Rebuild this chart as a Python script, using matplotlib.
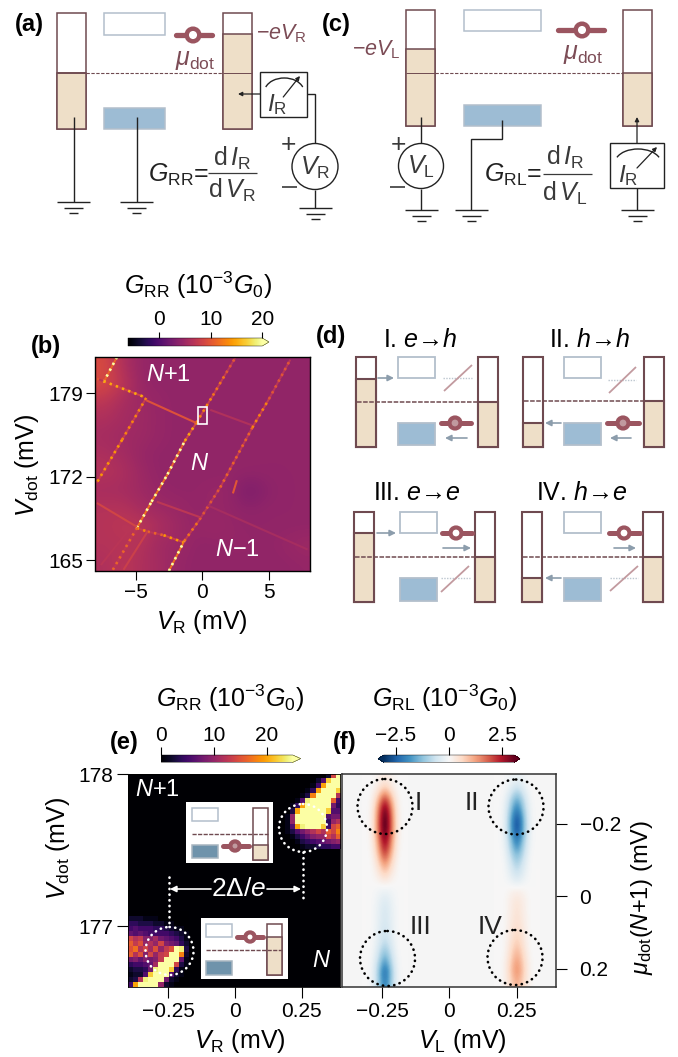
import numpy as np
import matplotlib
matplotlib.use("Agg")
import matplotlib.pyplot as plt
from matplotlib.collections import LineCollection
from matplotlib.colors import Normalize
from matplotlib.patches import Rectangle, Circle, Arc
from matplotlib.cm import ScalarMappable

plt.rcParams.update({
    "font.family": ["Liberation Sans", "DejaVu Sans"],
    "mathtext.fontset": "custom",
    "mathtext.rm": "Liberation Sans",
    "mathtext.it": "Liberation Sans:italic",
    "mathtext.bf": "Liberation Sans:bold",
    "mathtext.default": "it",
    "font.size": 15,
})

# ---------- panel (b) data ----------
b_ticks_x = [-5, 0, 5]
b_ticks_y = [165, 172, 179]
b_background = [
    [9.0, 6.0, 4.5, 4.2, 4.2, 4.2, 4.2, 4.2, 4.2, 4.2, 4.2, 4.2],
    [9.0, 7.0, 4.5, 4.2, 4.2, 4.2, 4.2, 4.2, 4.2, 4.2, 4.2, 4.2],
    [7.0, 5.5, 5.0, 4.5, 4.2, 4.2, 4.2, 4.2, 4.2, 4.2, 4.2, 4.2],
    [6.0, 5.5, 5.0, 4.5, 4.2, 4.2, 4.2, 4.2, 4.2, 4.2, 4.2, 4.2],
    [5.5, 5.0, 5.0, 4.5, 4.2, 4.2, 4.2, 4.2, 4.2, 4.2, 4.2, 4.2],
    [6.0, 5.5, 4.5, 4.2, 4.2, 4.2, 4.2, 4.2, 4.2, 4.2, 4.2, 4.2],
    [6.5, 6.0, 5.0, 4.2, 4.2, 4.2, 4.2, 4.3, 4.3, 4.2, 4.2, 4.2],
    [5.5, 5.5, 5.0, 4.5, 4.2, 4.3, 4.5, 4.5, 2.5, 3.8, 4.2, 4.2],
    [6.5, 6.5, 5.5, 5.0, 4.8, 4.2, 4.5, 4.3, 4.0, 4.2, 4.2, 4.2],
    [6.5, 7.0, 7.0, 6.0, 5.0, 4.5, 4.8, 4.5, 4.2, 4.2, 4.2, 4.2],
    [6.5, 6.5, 6.5, 5.0, 5.0, 4.2, 4.2, 4.4, 4.4, 4.2, 4.5, 5.0],
    [6.0, 7.0, 6.0, 5.5, 4.5, 4.2, 4.2, 4.2, 4.2, 4.2, 4.2, 4.4],
]
# resonance lines: V_R, V_dot and the conductance of each segment
line_main_x = [-4.9, -3.8, -2.6, -1.3, -0.45, 0.8, 1.8, 2.5]
line_main_y = [167.7, 169.9, 172.2, 175.0, 176.5, 178.8, 180.7, 182.0]
line_main_v = [24, 24, 21, 15, 13, 12, 10]
line_low_x = [-2.5, -1.35]
line_low_y = [164.1, 166.6]
line_low_v = [24]
line_right_x = [-1.35, -0.2, 1.35, 3.75, 5.0, 6.6]
line_right_y = [166.6, 168.4, 171.1, 176.1, 178.5, 181.8]
line_right_v = [12, 10, 11, 13, 10]
line_left_x = [-4.2, -6.0, -7.9]
line_left_y = [178.6, 175.1, 171.5]
line_left_v = [13, 14]
line_corner_x = [-7.4, -6.4]
line_corner_y = [179.9, 182.0]
line_corner_v = [22]
cross_top_x = [-7.9, -7.4, -4.4]
cross_top_y = [180.2, 180.0, 178.7]
cross_top_v = [10, 15]
cross_mid_x = [-4.2, -0.45]
cross_mid_y = [178.4, 176.5]
cross_mid_v = [9.5]
cross_faint_x = [0.6, 3.75]
cross_faint_y = [177.6, 176.3]
cross_faint_v = [6.2]
cross_low_x = [-4.9, -4.1, -2.9, -1.4]
cross_low_y = [167.7, 167.4, 167.1, 166.5]
cross_low_v = [13, 11, 14]
cross_c3_x = [-3.4, -0.15]
cross_c3_y = [169.9, 168.6]
cross_c3_v = [7]
cross_c4_x = [-7.9, -4.9]
cross_c4_y = [169.8, 167.8]
cross_c4_v = [8.5]
fan_a_x = [-6.7, -4.9]
fan_a_y = [164.2, 167.7]
fan_a_v = [11]
fan_b_x = [-5.9, -4.1]
fan_b_y = [164.2, 167.4]
fan_b_v = [8]
fan_c_x = [-7.6, -5.6]
fan_c_y = [164.6, 167.4]
fan_c_v = [6.8]
tail_x = [0.4, 7.9]
tail_y = [169.6, 165.9]
tail_v = [5.6]
spot_x = [2.3, 2.6]
spot_y = [170.6, 171.7]
spot_v = [10]

# ---------- panel (e) data: cells of the two bright corners ----------
e_ticks_x = [-0.25, 0, 0.25]
e_ticks_y = [177, 178]
e_top_right = [
    [0, 0, 0, 0, 0, 0, 0, 0, 0, 2, 14, 26],
    [0, 0, 0, 0, 0, 0, 0, 2, 6, 22, 26, 26],
    [0, 0, 0, 0, 0, 0, 1, 5, 20, 26, 26, 26],
    [0, 0, 0, 0, 0, 1, 4, 20, 26, 26, 26, 22],
    [0, 0, 0, 0, 1, 3, 18, 26, 26, 26, 26, 12],
    [0, 0, 0, 1, 6, 24, 26, 26, 26, 26, 16, 5],
    [0, 0, 1, 4, 20, 26, 26, 26, 26, 26, 8, 4],
    [0, 0, 3, 20, 26, 26, 26, 26, 26, 22, 6, 6],
    [0, 1, 10, 26, 26, 26, 26, 26, 26, 6, 8, 8],
    [0, 1, 10, 26, 26, 26, 26, 26, 26, 4, 10, 12],
    [0, 1, 6, 20, 24, 26, 26, 26, 22, 5, 14, 16],
    [0, 1, 3, 6, 8, 10, 12, 14, 12, 16, 14, 18],
    [0, 0, 1, 3, 5, 7, 9, 10, 10, 14, 12, 16],
    [0, 0, 0, 1, 3, 4, 5, 6, 7, 8, 9, 10],
    [0, 0, 0, 0, 1, 2, 2, 3, 4, 4, 5, 5],
]
e_bottom_left = [
    [0, 0, 0, 0, 0, 0, 0, 0, 0, 0, 0, 0],
    [2, 2, 2, 1, 1, 1, 0, 0, 0, 0, 0, 0],
    [4, 4, 3, 3, 3, 2, 2, 1, 1, 0, 0, 0],
    [5, 6, 5, 5, 5, 4, 4, 3, 2, 1, 1, 0],
    [7, 6, 7, 6, 5, 5, 5, 5, 4, 3, 2, 1],
    [14, 12, 13, 9, 9, 11, 8, 7, 6, 5, 3, 1],
    [16, 13, 15, 10, 12, 10, 14, 9, 8, 7, 4, 2],
    [15, 17, 12, 14, 11, 15, 10, 13, 15, 25, 24, 3],
    [16, 12, 15, 9, 14, 10, 13, 14, 26, 26, 18, 2],
    [8, 9, 7, 9, 8, 9, 13, 26, 26, 26, 7, 1],
    [4, 5, 5, 6, 7, 11, 26, 26, 26, 14, 3, 1],
    [2, 3, 3, 4, 8, 24, 26, 26, 22, 4, 1, 0],
    [1, 2, 2, 6, 22, 26, 26, 25, 6, 2, 1, 0],
    [2, 3, 12, 24, 26, 26, 25, 8, 2, 1, 0, 0],
    [5, 20, 26, 26, 26, 25, 10, 2, 1, 0, 0, 0],
]

# ---------- panel (f) data: columns around V_L = -0.25 and +0.25 ----------
f_ticks_x = [-0.25, 0, 0.25]
f_ticks_y = [-0.2, 0, 0.2]
f_left_peak = [
    [0.0, 0.1, 0.3, 0.1, 0.0],
    [0.0, 0.35, 0.9, 0.35, 0.0],
    [0.05, 1.0, 2.4, 1.0, 0.05],
    [0.1, 1.5, 3.3, 1.5, 0.1],
    [0.1, 1.7, 3.6, 1.7, 0.1],
    [0.1, 1.7, 3.6, 1.7, 0.1],
    [0.1, 1.4, 3.1, 1.4, 0.1],
    [0.05, 1.1, 2.6, 1.1, 0.05],
    [0.0, 0.7, 1.8, 0.7, 0.0],
    [0.0, 0.35, 1.0, 0.35, 0.0],
    [0.0, 0.1, 0.3, 0.1, 0.0],
    [0.0, -0.1, -0.2, -0.1, 0.0],
    [0.0, -0.2, -0.45, -0.2, 0.0],
    [0.0, -0.25, -0.55, -0.25, 0.0],
    [0.0, -0.25, -0.55, -0.25, 0.0],
    [0.0, -0.3, -0.65, -0.3, 0.0],
    [0.0, -0.35, -0.8, -0.35, 0.0],
    [0.0, -0.55, -1.3, -0.55, 0.0],
    [-0.05, -0.8, -1.9, -0.8, -0.05],
    [-0.05, -1.1, -2.6, -1.1, -0.05],
    [-0.05, -1.0, -2.3, -1.0, -0.05],
]
f_right_peak = [
    [0.0, -0.1, -0.2, -0.1, 0.0],
    [0.0, -0.3, -0.8, -0.35, 0.0],
    [-0.05, -0.8, -1.7, -0.8, -0.05],
    [-0.1, -1.1, -2.3, -1.1, -0.1],
    [-0.1, -1.4, -3.0, -1.4, -0.1],
    [-0.1, -1.4, -3.0, -1.4, -0.1],
    [-0.1, -1.1, -2.4, -1.1, -0.1],
    [-0.05, -0.85, -1.8, -0.85, -0.05],
    [0.0, -0.55, -1.2, -0.55, 0.0],
    [0.0, -0.35, -0.8, -0.35, 0.0],
    [0.0, -0.15, -0.4, -0.15, 0.0],
    [0.0, 0.1, 0.2, 0.1, 0.0],
    [0.0, 0.2, 0.4, 0.2, 0.0],
    [0.0, 0.2, 0.45, 0.2, 0.0],
    [0.0, 0.25, 0.5, 0.25, 0.0],
    [0.0, 0.3, 0.6, 0.3, 0.0],
    [0.0, 0.35, 0.8, 0.35, 0.0],
    [0.0, 0.5, 1.1, 0.5, 0.0],
    [0.05, 0.65, 1.4, 0.65, 0.05],
    [0.05, 0.75, 1.6, 0.75, 0.05],
    [0.05, 0.55, 1.2, 0.55, 0.05],
]

# ---------- colours ----------
TAN = "#eedfc8"
EDGE = "#6f4a50"
GREY_EDGE = "#b3bfcc"
BLUE = "#9dbcd4"
DOT = "#9b5560"
MU = "#7c4c56"
ARROW = "#8c9dac"
DIAG = "#c29a9f"
TXT = "#3a3a3a"

W, H = 678, 1057
fig = plt.figure(figsize=(6.78, 10.57), dpi=100)
TICK = 15


def axpx(l, t, r, b, **kw):
    return fig.add_axes([l / W, 1 - b / H, (r - l) / W, (b - t) / H], **kw)


def style(ax, length=6.3, width=0.8):
    ax.tick_params(length=length, width=width, pad=2.5, labelsize=TICK)


# ---------- (b) ----------
ax_b = axpx(95.5, 357.3, 310, 571)
norm_b = Normalize(-6.1, 20)
ext_b = (-8, 8.08, 164.1, 182.0)
ax_b.imshow(b_background, cmap="inferno", norm=norm_b, extent=ext_b, aspect="auto", interpolation="bicubic")
lines_b = [
    (line_main_x, line_main_y, line_main_v, True),
    (line_low_x, line_low_y, line_low_v, True),
    (line_right_x, line_right_y, line_right_v, True),
    (line_left_x, line_left_y, line_left_v, True),
    (line_corner_x, line_corner_y, line_corner_v, True),
    (cross_top_x, cross_top_y, cross_top_v, True),
    (cross_mid_x, cross_mid_y, cross_mid_v, False),
    (cross_faint_x, cross_faint_y, cross_faint_v, False),
    (cross_low_x, cross_low_y, cross_low_v, True),
    (cross_c3_x, cross_c3_y, cross_c3_v, False),
    (cross_c4_x, cross_c4_y, cross_c4_v, False),
    (fan_a_x, fan_a_y, fan_a_v, True),
    (fan_b_x, fan_b_y, fan_b_v, False),
    (fan_c_x, fan_c_y, fan_c_v, False),
    (tail_x, tail_y, tail_v, False),
    (spot_x, spot_y, spot_v, False),
]
for xs, ys, vs, spotted in lines_b:
    pts = np.column_stack([xs, ys])
    segs = np.stack([pts[:-1], pts[1:]], axis=1)
    vals = np.asarray(vs, float)
    if spotted:
        under = LineCollection(segs, cmap="inferno", norm=norm_b, linewidths=1.4)
        under.set_array(0.35 * vals + 3.2)
        ax_b.add_collection(under)
        top = LineCollection(segs, cmap="inferno", norm=norm_b, linewidths=1.9,
                             linestyles=[(0, (0.9, 1.6))])
        top.set_array(vals)
        ax_b.add_collection(top)
    else:
        lc = LineCollection(segs, cmap="inferno", norm=norm_b, linewidths=1.5)
        lc.set_array(vals)
        ax_b.add_collection(lc)
ax_b.set_xlim(-8, 8.08)
ax_b.set_ylim(164.1, 182.0)
ax_b.set_xticks(b_ticks_x)
ax_b.set_yticks(b_ticks_y)
style(ax_b)
for s in ax_b.spines.values():
    s.set_linewidth(1.0)

cax_b = axpx(128, 338, 269, 346)
cb_b = fig.colorbar(ScalarMappable(norm_b, "inferno"), cax=cax_b, orientation="horizontal",
                    extend="max", extendfrac=0.05, ticks=[0, 10, 20])
cax_b.xaxis.set_ticks_position("top")
cax_b.tick_params(length=4.5, width=0.8, pad=2, labelsize=TICK)
cb_b.outline.set_linewidth(0.3)

# ---------- (e) ----------
ax_e = axpx(128, 774, 340, 987)
norm_e = Normalize(0, 25)
xl_e = (-0.4, 0.394)
yl_e = (176.6, 178.0)
ax_e.set_facecolor("#000004")
cell_x = 5 / 267.0
cell_y = 5 / 152.0
ax_e.imshow(e_top_right, cmap="inferno", norm=norm_e, interpolation="nearest", aspect="auto",
            extent=(xl_e[1] - 12 * cell_x, xl_e[1], yl_e[1] - 15 * cell_y, yl_e[1]))
ax_e.imshow(e_bottom_left, cmap="inferno", norm=norm_e, interpolation="nearest", aspect="auto",
            extent=(xl_e[0], xl_e[0] + 12 * cell_x, yl_e[0], yl_e[0] + 15 * cell_y))
ax_e.set_xlim(*xl_e)
ax_e.set_ylim(*yl_e)
ax_e.set_xticks(e_ticks_x, ["\u22120.25", "0", "0.25"])
ax_e.set_yticks(e_ticks_y)
style(ax_e, 8)
for s in ax_e.spines.values():
    s.set_linewidth(0.6)

cax_e = axpx(161.3, 755, 300.7, 762.3)
cb_e = fig.colorbar(ScalarMappable(norm_e, "inferno"), cax=cax_e, orientation="horizontal",
                    extend="max", extendfrac=0.06, ticks=[0, 10, 20])
cax_e.xaxis.set_ticks_position("top")
cax_e.tick_params(length=5.5, width=0.8, pad=2, labelsize=TICK)
cb_e.outline.set_linewidth(0.3)

# ---------- (f) ----------
ax_f = axpx(342, 774, 556, 987)
norm_f = Normalize(-3.05, 3.05)
xl_f = (-0.4, 0.397)
yl_f = (0.25, -0.338)
ax_f.set_facecolor("#f5f5f5")
f_half = 3.5 * 6.5 / 268.0
for peak, centre in [(f_left_peak, -0.24), (f_right_peak, 0.25)]:
    padded = np.pad(np.asarray(peak, float), ((0, 0), (1, 1)))
    ax_f.imshow(padded, cmap="RdBu_r", norm=norm_f, aspect="auto", interpolation="bicubic",
                extent=(centre - f_half, centre + f_half, yl_f[0], yl_f[1]), origin="upper")
ax_f.set_xlim(*xl_f)
ax_f.set_ylim(*yl_f)
ax_f.set_xticks(f_ticks_x, ["\u22120.25", "0", "0.25"])
ax_f.yaxis.tick_right()
ax_f.set_yticks(f_ticks_y, ["\u22120.2", "0", "0.2"])
style(ax_f, 8)
ax_f.tick_params(axis="y", pad=9)
for s in ax_f.spines.values():
    s.set_linewidth(1.1)
    s.set_color("#333333")

cax_f = axpx(378, 755, 520, 762.3)
cb_f = fig.colorbar(ScalarMappable(norm_f, "RdBu_r"), cax=cax_f, orientation="horizontal",
                    extend="both", extendfrac=0.045, ticks=[-2.5, 0, 2.5])
cax_f.xaxis.set_ticks_position("top")
cax_f.set_xticklabels(["\u22122.5", "0", "2.5"])
cax_f.tick_params(length=5.5, width=0.8, pad=2, labelsize=TICK)
cb_f.outline.set_linewidth(0.3)

# ---------- overlay in image pixels for schematics and labels ----------
ov = fig.add_axes([0, 0, 1, 1], zorder=20)
ov.set_xlim(0, W)
ov.set_ylim(H, 0)
ov.axis("off")
ov.patch.set_alpha(0)


def rect(x0, y0, x1, y1, fc="white", ec=EDGE, lw=1.1, z=3):
    ov.add_patch(Rectangle((x0, y0), x1 - x0, y1 - y0, fc=fc, ec=ec, lw=lw, zorder=z))


def lead(x0, x1, y0, y1, level, lw=1.1):
    rect(x0, y0, x1, y1, fc="white", ec=EDGE, lw=lw)
    rect(x0, level, x1, y1, fc=TAN, ec=EDGE, lw=lw, z=3.1)


def gates(x0, x1, up0, up1, lo0, lo1, fc=BLUE, lw=1.1):
    rect(x0, up0, x1, up1, fc="white", ec=GREY_EDGE, lw=lw)
    rect(x0, lo0, x1, lo1, fc=fc, ec=GREY_EDGE if fc == BLUE else "#a8b5c0", lw=lw)


def dash(x0, x1, y, lw=0.9, pat=(3, 1.4)):
    ov.plot([x0, x1], [y, y], color=EDGE, lw=lw, dashes=pat, zorder=5)


def device(cx, cy, x0, x1, r=6.3, filled=False, ring=3.2):
    ov.plot([x0, x1], [cy, cy], color=DOT, lw=ring + 0.6, solid_capstyle="round", zorder=5)
    ov.add_patch(Circle((cx, cy), r, fc="#c09a9f" if filled else "white", ec=DOT, lw=ring, zorder=6))


def line(xs, ys, c="#222222", lw=1.0, z=4):
    ov.plot(xs, ys, color=c, lw=lw, solid_capstyle="butt", solid_joinstyle="miter", zorder=z)


def ground(cx, y):
    line([cx - 16.5, cx + 16.5], [y, y], lw=1.0)
    line([cx - 9.5, cx + 9.5], [y + 5.5, y + 5.5], lw=1.0)
    line([cx - 4.5, cx + 4.5], [y + 11, y + 11], lw=1.0)


def arrow(x0, y0, x1, y1, c=ARROW, lw=1.2, ms=9, z=7):
    ov.annotate("", xy=(x1, y1), xytext=(x0, y0), zorder=z, annotation_clip=False,
                arrowprops=dict(arrowstyle="-|>", color=c, lw=lw, mutation_scale=ms,
                                shrinkA=0, shrinkB=0))


def txt(x, y, s, fs=15, c="black", z=9, **kw):
    kw.setdefault("ha", "center")
    kw.setdefault("va", "center")
    ov.text(x, y, s, fontsize=fs, color=c, zorder=z, **kw)


def meter(x0, y0, x1, y1):
    rect(x0, y0, x1, y1, fc="white", ec="#222222", lw=1.0, z=6)
    cx = (x0 + x1) / 2 + 1
    ov.add_patch(Arc((cx, y0 + 20), x1 - x0 - 8, 28, theta1=195, theta2=345, ec="#222222", lw=1.0, zorder=7))
    arrow(cx - 1, y0 + 25, x1 - 7, y0 + 4, c="#222222", lw=0.9, ms=6)
    txt(x0 + 18, y1 - 12, r"$I_{\mathrm{R}}$", fs=17.5, c=TXT, z=8)


def source(cx, cy, r, label):
    ov.add_patch(Circle((cx, cy), r, fc="white", ec="#222222", lw=1.0, zorder=6))
    txt(cx, cy + 1, label, fs=18, c=TXT)


EQ = 18
# ---- (a)
lead(57, 86, 13, 129, 73)
gates(103.5, 164.5, 13, 35, 108, 129)
lead(223, 252, 13, 129, 34)
line([223, 252], [73, 73], c=EDGE, lw=0.7, z=5)
dash(86, 223, 73, lw=0.8)
line([57, 86], [73, 73], c=EDGE, lw=1.2, z=5)
device(193, 35, 176, 212)
txt(195, 60, r"$\mu_{\mathrm{dot}}$", fs=18, c=MU)
txt(256, 34, r"$-eV_{\mathrm{R}}$", fs=15.5, c=MU, ha="left")
line([73.5, 73.5], [117, 202], z=5)
line([136.5, 136.5], [117, 202], z=5)
ground(73.5, 202)
ground(136.5, 202)
meter(259.5, 72, 307, 117)
arrow(260, 94, 238, 94, c="#222222", lw=0.9, ms=6)
line([307, 315, 315], [94, 94, 143])
source(315, 166.5, 23, r"$V_{\mathrm{R}}$")
line([315, 315], [189.5, 208])
ground(315, 208)
txt(288.5, 145, "+", fs=19, c=TXT)
line([282, 297], [187, 187], c=TXT, lw=1.2)
txt(178, 175, r"$G_{\mathrm{RR}}$=", fs=EQ, c="#222222")
line([208, 257], [172.5, 172.5], c=TXT, lw=0.9)
txt(232, 158, r"$\mathrm{d}\,I_{\mathrm{R}}$", fs=EQ, c=TXT)
txt(232, 190, r"$\mathrm{d}\,V_{\mathrm{R}}$", fs=EQ, c=TXT)

# ---- (c)
lead(405.5, 434.5, 10, 126, 48.5)
gates(463.5, 541, 10, 31, 105, 126)
lead(623, 652, 10, 126, 73)
line([405.5, 434.5], [73, 73], c=EDGE, lw=0.7, z=5)
dash(434.5, 623, 73, lw=0.8)
device(582, 30, 558, 604)
txt(583, 54, r"$\mu_{\mathrm{dot}}$", fs=18, c=MU)
txt(352, 50, r"$-eV_{\mathrm{L}}$", fs=15.5, c=MU, ha="left")
line([421, 421], [117, 143.5], z=5)
source(421, 166, 22.5, r"$V_{\mathrm{L}}$")
line([421, 421], [188.5, 210])
ground(421, 210)
txt(398, 145, "+", fs=19, c=TXT)
line([390, 405], [187, 187], c=TXT, lw=1.2)
line([502, 502, 471, 471], [120, 139, 139, 210], z=5)
ground(471, 210)
txt(513, 175, r"$G_{\mathrm{RL}}$=", fs=EQ, c="#222222")
line([543, 592], [173.5, 173.5], c=TXT, lw=0.9)
txt(565, 157, r"$\mathrm{d}\,I_{\mathrm{R}}$", fs=EQ, c=TXT)
txt(565, 193, r"$\mathrm{d}\,V_{\mathrm{L}}$", fs=EQ, c=TXT)
meter(610, 143, 664, 188)
line([637, 637], [188, 210])
ground(637, 210)
arrow(637, 143, 637, 117, c="#222222", lw=0.9, ms=6)

# ---- (d)
D = 1.5


def sub(l0, l1, r0, r1, y0, y1, level, fermi, gx0, gx1, up0, up1, lo0, lo1, dev, filled, dev_x0, dev_x1,
        arr1, arr2, dots, diag):
    lead(l0, l1, y0, y1, level, lw=D)
    lead(r0, r1, y0, y1, fermi, lw=D)
    gates(gx0, gx1, up0, up1, lo0, lo1, lw=1.3)
    dash(l0 + 1, r1, fermi, lw=1.1, pat=(3, 1))
    device(dev[0], dev[1], dev_x0, dev_x1, r=5.5, filled=filled, ring=3.0)
    arrow(*arr1)
    arrow(*arr2)
    ov.plot(dots[:2], [dots[2], dots[2]], color="#bcc6cf", lw=1.0, dashes=(1, 1), zorder=4)
    ov.plot(diag[:2], diag[2:], color=DIAG, lw=1.3, zorder=4, solid_capstyle="butt")


sub(356, 376, 478, 498, 356.5, 447, 379, 401.5, 398, 435, 357, 378, 423, 445, (455, 423), True, 441, 471,
    (378, 378, 394, 378), (467, 438, 445, 438), (443, 472, 378), (444, 472, 391, 365))
sub(523, 543, 644, 664, 356.5, 447, 423, 401, 564, 601, 357, 378, 423, 445, (623, 423), True, 607, 639,
    (561, 423, 545, 423), (631, 438, 610, 438), (608, 636, 380), (609, 636, 393, 367))
sub(353.5, 373.5, 475, 495, 512, 602, 533, 556.5, 400, 437, 512, 533, 578, 601, (456, 533), False, 442, 472,
    (377, 533, 396, 533), (443, 548, 471, 548), (441, 470, 578), (441, 469, 592, 566))
sub(522, 542, 643, 663, 512, 602, 578, 556.5, 564, 601, 512, 533, 578, 601, (624, 533), False, 609, 640,
    (561, 578, 545, 578), (614, 548, 636, 548), (610, 638, 578), (610, 638, 591, 566))
txt(420, 340, "I. $e$\u2192$h$", fs=18)
txt(589, 340, "II. $h$\u2192$h$", fs=18)
txt(417, 493, "III. $e$\u2192$e$", fs=18)
txt(582, 493, "IV. $h$\u2192$e$", fs=18)

# ---- panel letters
for x, y, s in [(29.5, 24, "(a)"), (336, 24, "(c)"), (46, 347, "(b)"), (331, 336, "(d)"), (124, 742, "(e)"), (345, 742, "(f)")]:
    txt(x, y, s, fs=17, weight="bold")

# ---- colourbar titles and axis labels
title_rr = r"$G_{\mathrm{RR}}$ ($10^{-3}G_0$)"
txt(198, 285, title_rr, fs=18)
txt(230, 698, title_rr, fs=18)
txt(445, 698, r"$G_{\mathrm{RL}}$ ($10^{-3}G_0$)", fs=18)
txt(202, 622, r"$V_{\mathrm{R}}$ (mV)", fs=18)
txt(27, 465, r"$V_{\mathrm{dot}}$ (mV)", fs=18, rotation=90)
txt(240, 1041, r"$V_{\mathrm{R}}$ (mV)", fs=18)
txt(58, 848, r"$V_{\mathrm{dot}}$ (mV)", fs=18, rotation=90)
txt(462, 1041, r"$V_{\mathrm{L}}$ (mV)", fs=18)
txt(642, 897, r"$\mu_{\mathrm{dot}}(N{+}1)$ (mV)", fs=17, rotation=90)

# ---- state labels
txt(168, 375, r"$N$+1", fs=17, c="white")
txt(200, 464, r"$N$", fs=17, c="white")
txt(237, 550, "$N$\u22121", fs=17, c="white")
txt(157, 790, r"$N$+1", fs=17, c="white")
txt(322, 961, r"$N$", fs=17, c="white")
ov.add_patch(Rectangle((198.3, 407), 9, 17, fc="none", ec="white", lw=1.2, zorder=7))

# ---- insets of (e)
rect(186, 802, 273, 863, fc="white", ec="white", lw=0, z=2.5)
gates(191.5, 218, 808, 821, 845, 858, fc="#6f93ab")
lead(253, 268, 808, 860, 845)
dash(192, 268, 834, lw=1.0, pat=(3, 1))
device(235, 846, 223, 249, r=4.6, filled=True, ring=3.0)
rect(201, 918, 288, 979, fc="white", ec="white", lw=0, z=2.5)
gates(206, 232, 924, 937, 961, 975, fc="#6f93ab")
lead(267, 282, 924, 975, 937)
dash(206, 282, 950, lw=1.0, pat=(3, 1))
device(250, 937, 237, 263, r=4.6, filled=False, ring=3.0)


def dotted_circle(cx, cy, r, c):
    ov.add_patch(Circle((cx, cy), r, fc="none", ec=c, lw=1.9, ls=(0, (0.1, 2.05)), capstyle="round", zorder=8))


def dotted_line(xs, ys):
    ov.plot(xs, ys, color="white", lw=1.9, ls=(0, (0.1, 2.05)), dash_capstyle="round", zorder=8)


dotted_circle(303, 828, 24, "white")
dotted_circle(169.5, 951, 24, "white")
dotted_line([302.5, 302.5], [852, 901])
dotted_line([169, 169], [877, 927])
arrow(211, 889, 170, 889, c="white", lw=1.2, ms=9)
arrow(267, 889, 301, 889, c="white", lw=1.2, ms=9)
txt(239, 889, r"2$\Delta$/$e$", fs=19, c="white")

# ---- circles of (f)
for cx, cy in [(385, 806.5), (516, 807), (387.5, 958.5), (515, 957.5)]:
    dotted_circle(cx, cy, 27.5, "black")
for x, y, s in [(418.5, 803, "I"), (472, 803, "II"), (420, 927, "III"), (490, 927, "IV")]:
    txt(x, y, s, fs=19, c="#222222")

fig.savefig("out.png", dpi=100)
